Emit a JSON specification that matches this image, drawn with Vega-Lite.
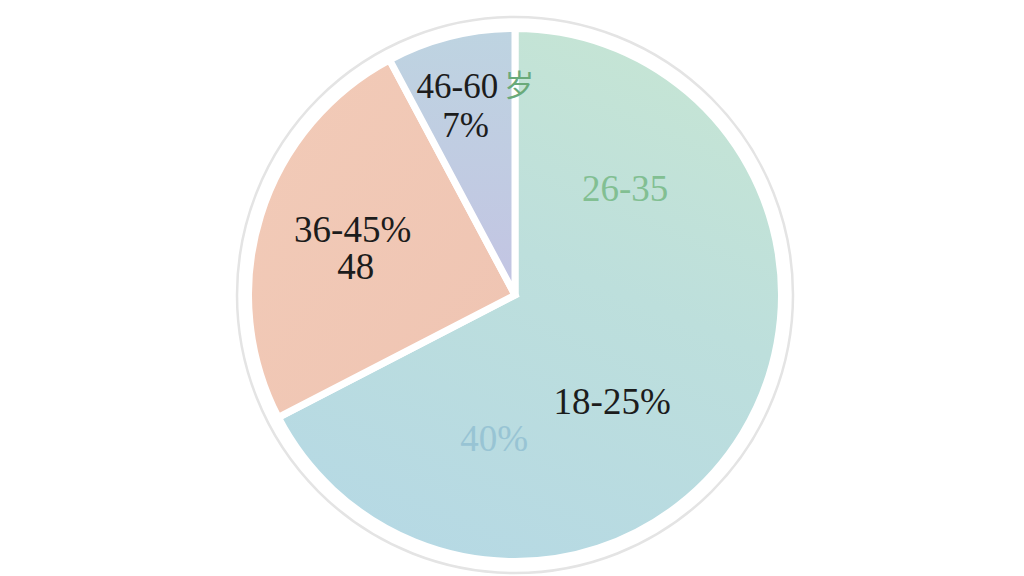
{
  "$schema": "https://vega.github.io/schema/vega-lite/v6.json",
  "width": 1018,
  "height": 562,
  "autosize": {"type": "none"},
  "padding": {"left": 6, "top": 14, "right": 0, "bottom": 0},
  "background": "white",
  "config": {"view": {"stroke": null}},
  "data": {
    "values": [
      {"group": "18-25", "value": 67.4, "title": "18-25%", "share": "40%", "note": "26-35"},
      {"group": "36-45", "value": 24.8, "title": "36-45%", "share": "48", "note": ""},
      {"group": "46-60", "value": 7.8, "title": "46-60", "share": "7%", "note": "岁"}
    ]
  },
  "layer": [
    {
      "data": {"values": [{"ring": "outline"}]},
      "mark": {"type": "arc", "radius": 278, "theta": 0, "theta2": 6.2832, "fill": "white", "stroke": "#e4e4e4", "strokeWidth": 2.5},
      "encoding": {}
    },
    {
      "mark": {"type": "arc", "radius": 266.5, "stroke": "white", "strokeWidth": 7,
        "fill": {"gradient": "linear", "x1": 0.75, "y1": 0, "x2": 0.35, "y2": 1,
          "stops": [{"offset": 0, "color": "#c6e5d4"}, {"offset": 0.45, "color": "#bddfdc"}, {"offset": 1, "color": "#b6d9e4"}]}},
      "encoding": {
        "theta": {"field": "value", "type": "quantitative", "stack": true},
        "order": {"field": "group", "type": "ordinal"},
        "opacity": {"condition": {"test": "datum.group === '18-25'", "value": 1}, "value": 0}
      }
    },
    {
      "mark": {"type": "arc", "radius": 266.5, "stroke": "white", "strokeWidth": 7,
        "fill": {"gradient": "linear", "x1": 0, "y1": 0, "x2": 1, "y2": 1,
          "stops": [{"offset": 0, "color": "#f2cbb8"}, {"offset": 1, "color": "#efc4b2"}]}},
      "encoding": {
        "theta": {"field": "value", "type": "quantitative", "stack": true},
        "order": {"field": "group", "type": "ordinal"},
        "opacity": {"condition": {"test": "datum.group === '36-45'", "value": 1}, "value": 0}
      }
    },
    {
      "mark": {"type": "arc", "radius": 266.5, "stroke": "white", "strokeWidth": 7,
        "fill": {"gradient": "linear", "x1": 0, "y1": 0, "x2": 0, "y2": 1,
          "stops": [{"offset": 0, "color": "#bed4e1"}, {"offset": 1, "color": "#c3c4e3"}]}},
      "encoding": {
        "theta": {"field": "value", "type": "quantitative", "stack": true},
        "order": {"field": "group", "type": "ordinal"},
        "opacity": {"condition": {"test": "datum.group === '46-60'", "value": 1}, "value": 0}
      }
    },
    {
      "mark": {"type": "text", "radius": 150, "dx": -31, "dy": 30, "font": "Liberation Serif", "fontSize": 37, "fill": "#1c1c1c"},
      "encoding": {
        "theta": {"field": "value", "type": "quantitative", "stack": true},
        "order": {"field": "group", "type": "ordinal"},
        "text": {"field": "title", "condition": {"test": "datum.group !== '18-25'", "value": ""}}
      }
    },
    {
      "mark": {"type": "text", "radius": 150, "dx": -149, "dy": 67, "font": "Liberation Serif", "fontSize": 37, "fill": "#98c4d4"},
      "encoding": {
        "theta": {"field": "value", "type": "quantitative", "stack": true},
        "order": {"field": "group", "type": "ordinal"},
        "text": {"field": "share", "condition": {"test": "datum.group !== '18-25'", "value": ""}}
      }
    },
    {
      "mark": {"type": "text", "radius": 150, "dx": -18, "dy": -183, "font": "Liberation Serif", "fontSize": 37, "fill": "#82bf92"},
      "encoding": {
        "theta": {"field": "value", "type": "quantitative", "stack": true},
        "order": {"field": "group", "type": "ordinal"},
        "text": {"field": "note", "condition": {"test": "datum.group !== '18-25'", "value": ""}}
      }
    },
    {
      "mark": {"type": "text", "radius": 170, "dx": 0, "dy": -14, "font": "Liberation Serif", "fontSize": 37, "fill": "#1c1c1c"},
      "encoding": {
        "theta": {"field": "value", "type": "quantitative", "stack": true},
        "order": {"field": "group", "type": "ordinal"},
        "text": {"field": "title", "condition": {"test": "datum.group !== '36-45'", "value": ""}}
      }
    },
    {
      "mark": {"type": "text", "radius": 170, "dx": 3, "dy": 23, "font": "Liberation Serif", "fontSize": 37, "fill": "#1c1c1c"},
      "encoding": {
        "theta": {"field": "value", "type": "quantitative", "stack": true},
        "order": {"field": "group", "type": "ordinal"},
        "text": {"field": "share", "condition": {"test": "datum.group !== '36-45'", "value": ""}}
      }
    },
    {
      "mark": {"type": "text", "radius": 213, "dx": -6, "dy": -1, "font": "Liberation Serif", "fontSize": 35, "fill": "#1c1c1c"},
      "encoding": {
        "theta": {"field": "value", "type": "quantitative", "stack": true},
        "order": {"field": "group", "type": "ordinal"},
        "text": {"field": "title", "condition": {"test": "datum.group !== '46-60'", "value": ""}}
      }
    },
    {
      "mark": {"type": "text", "radius": 213, "dx": 56, "dy": -1, "font": "Noto Sans CJK SC", "fontSize": 30, "fill": "#6aaa7a"},
      "encoding": {
        "theta": {"field": "value", "type": "quantitative", "stack": true},
        "order": {"field": "group", "type": "ordinal"},
        "text": {"field": "note", "condition": {"test": "datum.group !== '46-60'", "value": ""}}
      }
    },
    {
      "mark": {"type": "text", "radius": 175, "dx": -7, "dy": 1, "font": "Liberation Serif", "fontSize": 35, "fill": "#1c1c1c"},
      "encoding": {
        "theta": {"field": "value", "type": "quantitative", "stack": true},
        "order": {"field": "group", "type": "ordinal"},
        "text": {"field": "share", "condition": {"test": "datum.group !== '46-60'", "value": ""}}
      }
    }
  ]
}
